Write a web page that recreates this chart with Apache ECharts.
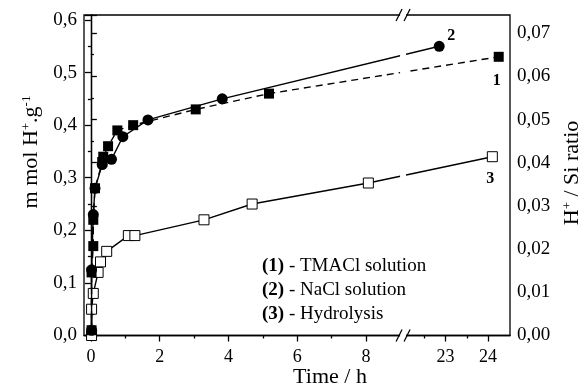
<!DOCTYPE html>
<html><head><meta charset="utf-8">
<script src="https://cdn.jsdelivr.net/npm/echarts@6/dist/echarts.min.js"></script>
<style>html,body{margin:0;padding:0;background:#fff}#c{width:584px;height:386px}</style>
</head><body><div id="c"></div>
<script>
// ---- data (time in hours, value in mmol H+ / g) ----
const tmaclHours = [0.02, 0.02, 0.07, 0.07, 0.12, 0.33, 0.36, 0.5, 0.77, 1.23, 3.05, 5.18, 24.25];
const tmaclValues = [0.01, 0.12, 0.17, 0.22, 0.28, 0.33, 0.34, 0.36, 0.39, 0.40, 0.43, 0.46, 0.53];
const naclHours = [0.02, 0.02, 0.07, 0.12, 0.33, 0.6, 0.93, 1.66, 3.82, 22.85];
const naclValues = [0.01, 0.125, 0.23, 0.28, 0.325, 0.335, 0.378, 0.41, 0.45, 0.55];
const hydroHours = [0.02, 0.02, 0.07, 0.21, 0.28, 0.46, 1.09, 1.28, 3.29, 4.69, 8.07, 24.1];
const hydroValues = [0.0, 0.05, 0.08, 0.12, 0.14, 0.16, 0.19, 0.19, 0.22, 0.25, 0.29, 0.34];
const xMajorHours = [0, 2, 4, 6, 8, 23, 24];
const xMinorHours = [1, 3, 5, 7, 22.5, 23.5];
const seriesNames = ['(1) - TMACl solution', '(2) - NaCl solution', '(3) - Hydrolysis'];
const curveTags = ['1', '2', '3'];

// ---- broken time axis ----
const BREAK_AT = 9.08;   // hours where first segment ends
const BREAK_TO = 22;     // hours where second segment starts
const SCALE2 = 1.2364;   // stretch of the second segment
function toAxis(t) { return t <= BREAK_AT ? t : BREAK_AT + (t - BREAK_TO) * SCALE2; }
function nearestHour(u) {
  let best = xMajorHours[0], d = Infinity;
  xMajorHours.forEach(h => { const dd = Math.abs(toAxis(h) - u); if (dd < d) { d = dd; best = h; } });
  return best;
}
const FONT = 'Liberation Serif';

const chart = echarts.init(document.getElementById('c'), null, {renderer: 'canvas'});
function pts(hs, vs) { return hs.map((h, i) => [toAxis(h), vs[i]]); }
function withTag(data, tag, offset) {
  const last = data.length - 1;
  data[last] = {value: data[last], label: {show: true, formatter: tag, position: 'inside', offset: offset,
    fontFamily: FONT, fontWeight: 'bold', fontSize: 16, color: '#000'}};
  return data;
}

chart.setOption({
  animation: false,
  grid: {left: 84, right: 74, top: 15, bottom: 50.5, show: true, borderColor: '#000', borderWidth: 1.3, containLabel: false},
  xAxis: [{
    type: 'value', min: -0.2, max: 12.19, position: 'bottom',
    axisLine: {show: true, lineStyle: {color: '#000', width: 1.3}},
    axisTick: {show: true, customValues: xMajorHours.map(toAxis), length: 6, lineStyle: {color: '#000', width: 1.3}},
    axisLabel: {show: true, customValues: xMajorHours.map(toAxis), formatter: v => String(nearestHour(v)),
      margin: 13, fontFamily: FONT, fontSize: 18, color: '#000'},
    splitLine: {show: false}
  }, {
    type: 'value', min: -0.2, max: 12.19, position: 'bottom',
    axisLine: {show: false},
    axisTick: {show: true, customValues: xMinorHours.map(toAxis), length: 3, lineStyle: {color: '#000', width: 1.3}},
    axisLabel: {show: false}, splitLine: {show: false}
  }],
  yAxis: [{
    type: 'value', min: 0, max: 0.6095, interval: 0.1, position: 'left',
    axisLine: {show: true, lineStyle: {color: '#000', width: 1.3}},
    axisTick: {show: true, length: 6, lineStyle: {color: '#000', width: 1.3}},
    minorTick: {show: true, splitNumber: 2, length: 3, lineStyle: {color: '#000', width: 1.3}},
    axisLabel: {formatter: v => v.toFixed(1).replace('.', ','), showMaxLabel: false, margin: 7,
      fontFamily: FONT, fontSize: 19, color: '#000'},
    splitLine: {show: false}, minorSplitLine: {show: false}
  }, {
    type: 'value', min: 0, max: 0.0742, interval: 0.01, position: 'right',
    axisLine: {show: true, lineStyle: {color: '#000', width: 1.3}},
    axisTick: {show: true, length: 6, lineStyle: {color: '#000', width: 1.3}},
    minorTick: {show: true, splitNumber: 2, length: 3, lineStyle: {color: '#000', width: 1.3}},
    axisLabel: {formatter: v => v.toFixed(2).replace('.', ','), showMaxLabel: false, margin: 7,
      fontFamily: FONT, fontSize: 19, color: '#000'},
    splitLine: {show: false}, minorSplitLine: {show: false}
  }],
  series: [{
    name: seriesNames[0], type: 'line', xAxisIndex: 0, yAxisIndex: 0,
    data: withTag(pts(tmaclHours, tmaclValues), curveTags[0], [-2, 24]),
    symbol: 'rect', symbolSize: 10, itemStyle: {color: '#000'},
    lineStyle: {color: '#000', width: 1.4, type: [7, 5]}, z: 3
  }, {
    name: seriesNames[1], type: 'line', xAxisIndex: 0, yAxisIndex: 0,
    data: withTag(pts(naclHours, naclValues), curveTags[1], [12, -10]),
    symbol: 'circle', symbolSize: 11, itemStyle: {color: '#000'},
    lineStyle: {color: '#000', width: 1.4}, z: 4
  }, {
    name: seriesNames[2], type: 'line', xAxisIndex: 0, yAxisIndex: 0,
    data: withTag(pts(hydroHours, hydroValues), curveTags[2], [-2, 22]),
    symbol: 'rect', symbolSize: 10, itemStyle: {color: '#fff', borderColor: '#000', borderWidth: 1},
    lineStyle: {color: '#000', width: 1.4}, z: 2
  }]
});

// break markers, legend text and axis titles
const xb = chart.convertToPixel({xAxisIndex: 0}, BREAK_AT);
const yTop = chart.convertToPixel({yAxisIndex: 0}, 0.6095);
const yBot = chart.convertToPixel({yAxisIndex: 0}, 0);
function slash(x, y) { return {type: 'line', z: 20, shape: {x1: x - 3, y1: y + 6, x2: x + 3, y2: y - 6}, style: {stroke: '#000', lineWidth: 1.3}}; }
const rich = {b: {fontFamily: FONT, fontSize: 19, fontWeight: 'bold', fill: '#000'}, n: {fontFamily: FONT, fontSize: 19, fill: '#000'}};
const legendItems = seriesNames.map((s, i) => {
  const m = s.match(/^(\(\d\))(.*)$/);
  return {type: 'text', z: 30, style: {x: 262, y: 266 + i * 24, text: '{b|' + m[1] + '}{n|' + m[2] + '}', rich: rich,
    verticalAlign: 'middle', align: 'left'}};
});
const supRich = {n: {fontFamily: FONT, fontSize: 22, fill: '#000'}, s: {fontFamily: FONT, fontSize: 13, fill: '#000', verticalAlign: 'top'}};
chart.setOption({graphic: [
  {type: 'rect', z: 15, shape: {x: xb - 3, y: yTop - 3, width: 6, height: yBot - yTop + 6}, style: {fill: '#fff'}},
  slash(xb - 4, yTop), slash(xb + 4, yTop), slash(xb - 4, yBot), slash(xb + 4, yBot),
  ...legendItems,
  {type: 'text', z: 30, style: {x: 330, y: 377, text: 'Time / h', font: '22px "Liberation Serif"', fill: '#000', align: 'center', verticalAlign: 'middle'}},
  {type: 'text', z: 30, x: 31, y: 152, rotation: Math.PI / 2, style: {x: 0, y: 0, text: '{n|m mol H}{s|+}{n|.g}{s|-1}', rich: supRich, align: 'center', verticalAlign: 'middle'}},
  {type: 'text', z: 30, x: 572, y: 173, rotation: Math.PI / 2, style: {x: 0, y: 0, text: '{n|H}{s|+}{n| / Si ratio}', rich: supRich, align: 'center', verticalAlign: 'middle'}}
]});
</script></body></html>
